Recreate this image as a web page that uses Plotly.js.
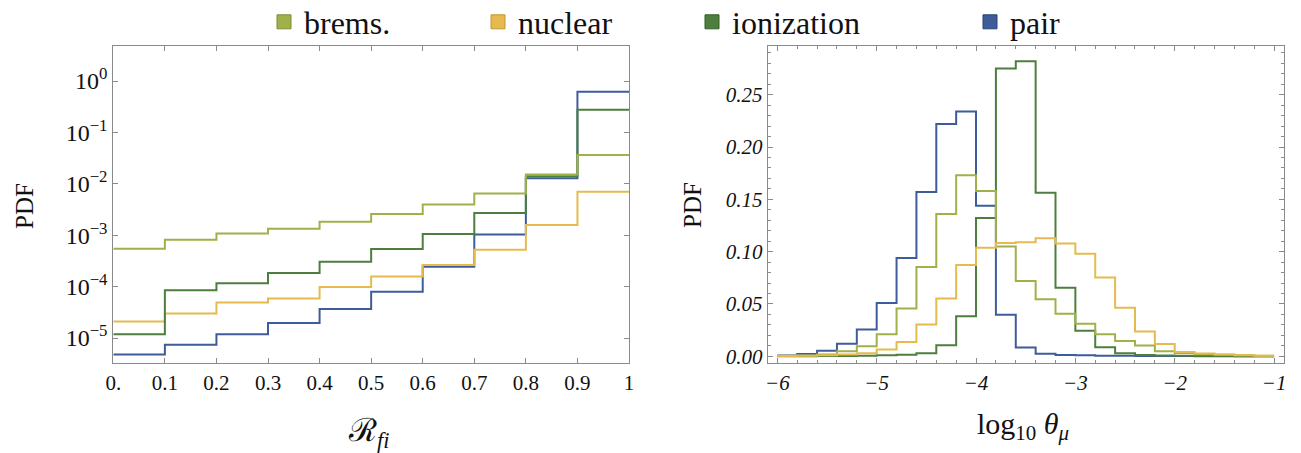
<!DOCTYPE html>
<html>
<head>
<meta charset="utf-8">
<script src="https://cdn.plot.ly/plotly-3.0.1.min.js"></script>
<style>
  html, body { margin: 0; padding: 0; background: #ffffff; }
  #chart { width: 1301px; height: 453px; }
</style>
</head>
<body>
<div id="chart"></div>
<script>
// Energy-loss processes shown in both panels
const processes = ["brems.", "nuclear", "ionization", "pair"];
const colors = { "brems.": "#a0b14a", "nuclear": "#e6ba4f", "ionization": "#4d7e3e", "pair": "#3e5b9a" };
const edgeColors = { "brems.": "#7d8c32", "nuclear": "#c2962f", "ionization": "#335f28", "pair": "#2a4278" };

// Left panel: PDF of the fractional energy loss R_fi (log scale), bins of width 0.1
const rEdges = [0, 0.1, 0.2, 0.3, 0.4, 0.5, 0.6, 0.7, 0.8, 0.9, 1.0];
const rTickText = ["0.", "0.1", "0.2", "0.3", "0.4", "0.5", "0.6", "0.7", "0.8", "0.9", "1"];
const rBrems      = [5.48e-4, 8.2e-4, 1.08e-3, 1.33e-3, 1.82e-3, 2.58e-3, 3.94e-3, 6.45e-3, 1.51e-2, 3.62e-2];
const rNuclear    = [2.09e-5, 3.0e-5, 4.93e-5, 5.9e-5, 9.8e-5, 1.57e-4, 2.62e-4, 5.2e-4, 1.58e-3, 7.03e-3];
const rIonization = [1.18e-5, 8.5e-5, 1.16e-4, 1.85e-4, 3.05e-4, 5.4e-4, 1.05e-3, 2.7e-3, 1.40e-2, 2.75e-1];
const rPair       = [4.8e-6, 7.4e-6, 1.18e-5, 1.97e-5, 3.65e-5, 7.97e-5, 2.43e-4, 1.03e-3, 1.28e-2, 6.18e-1];
const logTickVals = [1e-5, 1e-4, 1e-3, 1e-2, 1e-1, 1];
const logTickText = ["10<sup>\u22125</sup>", "10<sup>\u22124</sup>", "10<sup>\u22123</sup>", "10<sup>\u22122</sup>", "10<sup>\u22121</sup>", "10<sup>0</sup>"];

// Right panel: PDF of log10 of the muon deflection angle, bins of width 0.2
const thEdges = [-6.0, -5.8, -5.6, -5.4, -5.2, -5.0, -4.8, -4.6, -4.4, -4.2, -4.0, -3.8, -3.6,
                 -3.4, -3.2, -3.0, -2.8, -2.6, -2.4, -2.2, -2.0, -1.8, -1.6, -1.4, -1.2, -1.0];
const thBrems      = [0.0004, 0.0008, 0.0018, 0.0048, 0.0096, 0.021, 0.0457, 0.0853, 0.136, 0.173, 0.158, 0.105, 0.072,
                      0.0546, 0.0406, 0.031, 0.0211, 0.0147, 0.0102, 0.0048, 0.0032, 0.002, 0.0014, 0.001, 0.0006];
const thNuclear    = [0.0003, 0.0005, 0.0009, 0.0016, 0.003, 0.0064, 0.0137, 0.0303, 0.0553, 0.0872, 0.1038, 0.1083, 0.109,
                      0.1128, 0.1077, 0.0981, 0.0754, 0.0463, 0.0236, 0.0118, 0.0042, 0.0026, 0.0016, 0.001, 0.0006];
const thIonization = [0.0001, 0.0001, 0.0002, 0.0003, 0.0005, 0.0009, 0.0015, 0.003, 0.0105, 0.0383, 0.1321, 0.2751, 0.2821,
                      0.1563, 0.0655, 0.0243, 0.0086, 0.0029, 0.0013, 0.0008, 0.0005, 0.0003, 0.0002, 0.0001, 0.0001];
const thPair       = [0.0007, 0.0022, 0.0054, 0.012, 0.0256, 0.051, 0.094, 0.157, 0.222, 0.234, 0.144, 0.0396, 0.0083,
                      0.0025, 0.0013, 0.0009, 0.0006, 0.0004, 0.0003, 0.0002, 0.0002, 0.0001, 0.0001, 0.0001, 0.0];
const thTickVals = [-6, -5, -4, -3, -2, -1];
const thTickText = ["\u22126", "\u22125", "\u22124", "\u22123", "\u22122", "\u22121"];
const pdfTickVals = [0, 0.05, 0.10, 0.15, 0.20, 0.25];
const pdfTickText = ["0.00", "0.05", "0.10", "0.15", "0.20", "0.25"];

const FONT = "Liberation Serif";
const FRAME = "#8a8a8a";

// Step outline of a histogram: one point per bin edge, last value repeated
function stepTrace(edges, values, name, xa, ya) {
  return {
    type: "scatter", mode: "lines",
    x: edges, y: values.concat([values[values.length - 1]]),
    xaxis: xa, yaxis: ya,
    line: { shape: "hv", color: colors[name], width: 2 },
    name: name, showlegend: false, hoverinfo: "skip"
  };
}

const traces = [
  stepTrace(rEdges, rPair, "pair", "x", "y"),
  stepTrace(rEdges, rNuclear, "nuclear", "x", "y"),
  stepTrace(rEdges, rIonization, "ionization", "x", "y"),
  stepTrace(rEdges, rBrems, "brems.", "x", "y"),
  stepTrace(thEdges, thPair, "pair", "x2", "y2"),
  stepTrace(thEdges, thIonization, "ionization", "x2", "y2"),
  stepTrace(thEdges, thBrems, "brems.", "x2", "y2"),
  stepTrace(thEdges, thNuclear, "nuclear", "x2", "y2")
];

// Square swatches for the shared legend
processes.forEach(function (p) {
  traces.push({
    type: "scatter", mode: "markers", x: [null], y: [null],
    xaxis: "x2", yaxis: "y2",
    name: p, showlegend: true,
    legend: p === "pair" ? "legend2" : "legend",
    marker: { symbol: "square", size: 14, color: colors[p], line: { color: edgeColors[p], width: 1 } }
  });
});

function axisBase(italic, size) {
  return {
    showline: true, linecolor: FRAME, linewidth: 1, mirror: "ticks",
    ticks: "inside", ticklen: 5, tickcolor: FRAME, tickwidth: 1,
    showgrid: false, zeroline: false, fixedrange: true,
    tickfont: { family: FONT, size: size, color: "#111", style: italic ? "italic" : "normal" }
  };
}

function legendBase(x, w) {
  return {
    orientation: "h", xanchor: "left", yanchor: "middle",
    x: x, y: 1 - 22 / 453, bgcolor: "rgba(0,0,0,0)",
    font: { family: FONT, size: 32, color: "#111" },
    entrywidthmode: "pixels", entrywidth: w, itemclick: false, itemdoubleclick: false
  };
}

const layout = {
  width: 1301, height: 453,
  margin: { l: 0, r: 0, t: 0, b: 0, autoexpand: false },
  paper_bgcolor: "#ffffff", plot_bgcolor: "#ffffff",
  font: { family: FONT, color: "#111" },
  xaxis: Object.assign(axisBase(false, 21), {
    domain: [113.3 / 1301, 629 / 1301], range: [0, 1], anchor: "y",
    tickvals: rEdges, ticktext: rTickText
  }),
  yaxis: Object.assign(axisBase(false, 24), {
    domain: [1 - 363.3 / 453, 1 - 45.7 / 453], type: "log", range: [-5.492, 0.687], anchor: "x",
    tickvals: logTickVals, ticktext: logTickText
  }),
  xaxis2: Object.assign(axisBase(true, 21), {
    domain: [767.7 / 1301, 1283.7 / 1301], range: [-6.097, -0.903], anchor: "y2",
    tickvals: thTickVals, ticktext: thTickText,
    minor: { ticks: "inside", ticklen: 3, tickcolor: FRAME, dtick: 0.2, tick0: -6 }
  }),
  yaxis2: Object.assign(axisBase(true, 21), {
    domain: [1 - 363.3 / 453, 1 - 45.7 / 453], range: [-0.0067, 0.2969], anchor: "x2",
    tickvals: pdfTickVals, ticktext: pdfTickText,
    minor: { ticks: "inside", ticklen: 3, tickcolor: FRAME, dtick: 0.01, tick0: 0 }
  }),
  showlegend: true,
  legend: legendBase(264 / 1301, 169),
  legend2: legendBase(970 / 1301, 0),
  annotations: [
    { text: "PDF", xref: "paper", yref: "paper", x: 24 / 1301, y: 1 - 206 / 453, textangle: -90,
      xanchor: "center", yanchor: "middle",
      showarrow: false, font: { family: FONT, size: 25, color: "#111" } },
    { text: "PDF", xref: "paper", yref: "paper", x: 692 / 1301, y: 1 - 205 / 453, textangle: -90,
      xanchor: "center", yanchor: "middle",
      showarrow: false, font: { family: FONT, size: 25, color: "#111" } },
    { text: "\u211B<sub><i>fi</i></sub>", xref: "paper", yref: "paper", x: 368 / 1301, y: 1 - 432 / 453,
      xanchor: "center", yanchor: "middle",
      showarrow: false, font: { family: FONT, size: 32, color: "#111" } },
    { text: "log<sub>10</sub> <i>\u03B8</i><sub><i>\u03BC</i></sub>", xref: "paper", yref: "paper",
      x: 1023 / 1301, y: 1 - 426 / 453, xanchor: "center", yanchor: "middle",
      showarrow: false, font: { family: FONT, size: 30, color: "#111" } }
  ]
};

Plotly.newPlot("chart", traces, layout, { staticPlot: true, displayModeBar: false });
</script>
</body>
</html>
